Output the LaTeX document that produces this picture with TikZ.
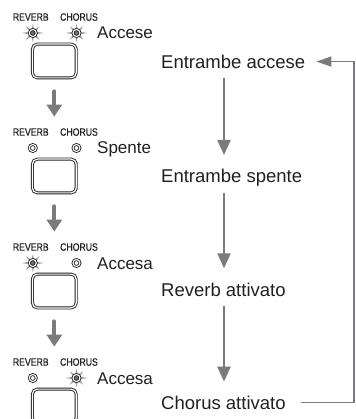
\documentclass[tikz,border=0pt]{standalone}
\usepackage{fontspec}
\setmainfont{Liberation Sans}
\newfontfamily\panelfont[FakeStretch=0.82,FakeBold=0.6]{Liberation Sans}
\usetikzlibrary{arrows.meta}
\definecolor{ink}{HTML}{231F20}
\definecolor{flowgray}{HTML}{7B7B7D}
\definecolor{raygray}{HTML}{A5A5A7}
\definecolor{ledgray}{HTML}{6E6E70}
\begin{document}
\begin{tikzpicture}[x=1pt,y=-1pt,
  paneltag/.style={font=\panelfont\fontsize{10.6}{12}\selectfont, text=ink, inner sep=0pt, anchor=base},
  status/.style={font=\fontsize{17}{20}\selectfont, text=ink, inner sep=0pt, anchor=base west},
  stage/.style={font=\fontsize{18.5}{22}\selectfont, text=ink, inner sep=0pt, anchor=base west, text height=13.5pt, text depth=0pt},
  led/.style={circle, draw=ink, double=white, double distance=1.1pt, line width=0.85pt, minimum size=7pt, inner sep=0pt},
  ledon/.style={led, fill=ledgray},
  selector/.style={draw=ink, double=white, double distance=1.2pt, line width=0.9pt, rounded corners=5pt, minimum width=43.8pt, minimum height=33.8pt, inner sep=0pt},
  stepdown/.style={draw=flowgray, line width=4pt, line cap=round, -{Triangle[width=15pt,length=12pt]}},
  flow/.style={draw=flowgray, line width=2.3pt, -{Triangle[width=13pt,length=15pt]}},
  loopback/.style={draw=flowgray, line width=1.6pt, -{Triangle[width=10pt,length=15pt]}},
  glow/.pic={
    \foreach \a/\l in {0/11,45/9.5,90/9,135/9.5,180/11,225/9.5,270/9,315/9.5}
      \fill[raygray] (\a+18:4) -- (\a:\l) -- (\a-18:4) -- cycle;
  }
]
\clip (0,0) rectangle (355,419);

% rays round the lit lamps
\pic at (32.8,33) {glow};
\pic at (76.5,33) {glow};
\pic at (32.8,263) {glow};
\pic at (76.5,378) {glow};

% the four panel states
\foreach \k/\ly/\rs/\cs/\txt in {1/33/ledon/ledon/Accese,
                                 2/148/led/led/Spente,
                                 3/263/ledon/led/Accesa,
                                 4/378/led/ledon/Accesa}{
  \node[paneltag] (rv\k) at (30.8,\ly-12.3) {REVERB};
  \node[paneltag] (ch\k) at (79,\ly-12.3) {CHORUS};
  \node[\rs] (lr\k) at (32.8,\ly) {};
  \node[\cs] (lc\k) at (76.5,\ly) {};
  \node[status] (st\k) at (97,\ly+6) {\txt};
  \node[selector] (b\k) at (54.3,\ly+28) {};
}

% arrows between panel states
\foreach \k/\n in {1/2,2/3,3/4}
  \draw[stepdown] ([yshift=-13pt]b\k.south) -- ([yshift=42pt]b\n.north);

% effect cycle
\node[stage] (ea) at (161,68.3) {Entrambe accese};
\node[stage] (es) at (161,182.7) {Entrambe spente};
\node[stage] (ra) at (161,296) {Reverb attivato};
\node[stage] (ca) at (161,409.3) {Chorus attivato};

\draw[flow] ([xshift=63pt,yshift=-10pt]ea.south west) -- ([xshift=63pt,yshift=14pt]es.north west);
\draw[flow] ([xshift=63pt,yshift=-10pt]es.south west) -- ([xshift=63pt,yshift=14pt]ra.north west);
\draw[flow] ([xshift=63pt,yshift=-10pt]ra.south west) -- ([xshift=63pt,yshift=14pt]ca.north west);

\coordinate (edge) at (354.2,0);
\draw[loopback] ([xshift=15pt]ca.east) -| (edge |- ea.east) -- ([xshift=11pt]ea.east);
\end{tikzpicture}
\end{document}
